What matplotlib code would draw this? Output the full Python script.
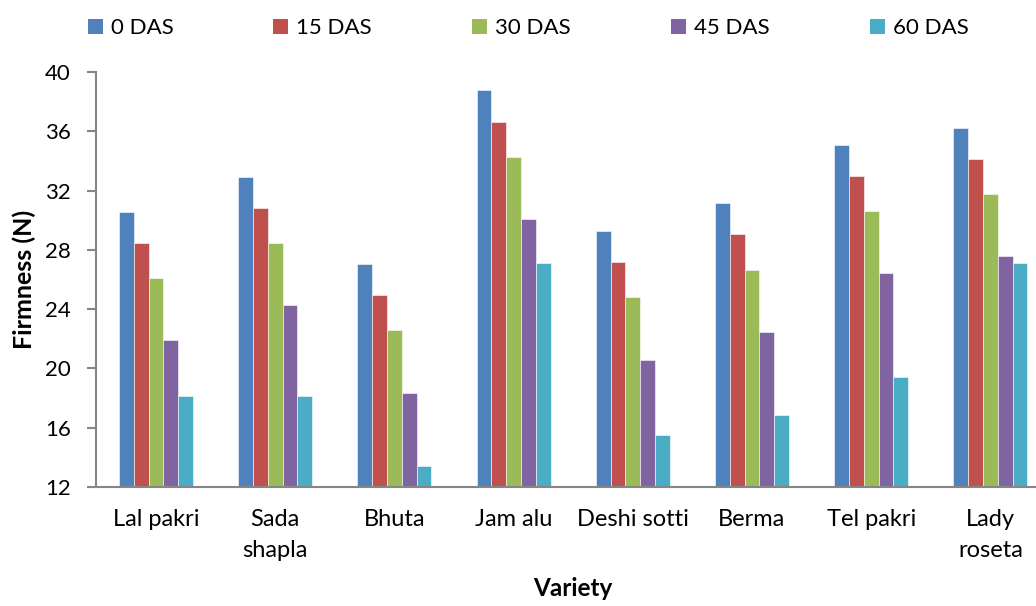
import numpy as np
import matplotlib.pyplot as plt
import matplotlib as mpl
from matplotlib.patches import Patch

mpl.rcParams['font.family'] = ['Lato', 'DejaVu Sans']
plt.rcParams.update({'font.size': 16})

varieties = ['Lal pakri', 'Sada\nshapla', 'Bhuta', 'Jam alu', 'Deshi sotti',
             'Berma', 'Tel pakri', 'Lady\nroseta']
series = ['0 DAS', '15 DAS', '30 DAS', '45 DAS', '60 DAS']

das_0 = [30.56, 32.9, 27.03, 38.76, 29.28, 31.15, 35.08, 36.25]
das_15 = [28.47, 30.79, 24.92, 36.65, 27.15, 29.06, 32.99, 34.13]
das_30 = [26.11, 28.43, 22.56, 34.29, 24.79, 26.67, 30.61, 31.8]
das_45 = [21.89, 24.25, 18.36, 30.09, 20.58, 22.49, 26.45, 27.6]
das_60 = [18.11, 18.11, 13.44, 27.12, 15.51, 16.83, 19.42, 27.12]

colors = ['#4F81BD', '#C0504D', '#9BBB59', '#8064A2', '#4BACC6']
values = [das_0, das_15, das_30, das_45, das_60]

fig = plt.figure(figsize=(10.36, 6.06), dpi=100)
ax = fig.add_axes([0.093, 0.1964, 0.9205, 0.6848])

x = np.arange(len(varieties))
width = 0.124
for i, (vals, c) in enumerate(zip(values, colors)):
    ax.bar(x + (i - 2) * width, np.array(vals) - 12, width, bottom=12,
           color=c, edgecolor='white', linewidth=0.4)

ax.set_xlim(-0.5, len(varieties) - 0.5)
ax.set_ylim(12, 40)
ax.set_yticks(np.arange(12, 41, 4))
ax.set_xticks(x)
ax.set_xticklabels(varieties, linespacing=1.6, fontsize=17)

for s in ['top', 'right']:
    ax.spines[s].set_visible(False)
for s in ['left', 'bottom']:
    ax.spines[s].set_color('#868686')
    ax.spines[s].set_linewidth(1.5)

ax.tick_params(axis='y', length=6.5, width=1.5, color='#868686', pad=12)
ax.tick_params(axis='x', length=0, pad=16)

ax.set_ylabel('Firmness (N)', fontweight='bold', fontsize=18, labelpad=6)
ax.set_xlabel('Variety', fontweight='bold', fontsize=17.5, labelpad=11)

# legend entries spaced evenly across the top
leg_x = [88, 273, 472, 671, 870]
for lx, lab, c in zip(leg_x, series, colors):
    leg = fig.legend(handles=[Patch(facecolor=c, label=lab)], loc='center left',
                     bbox_to_anchor=(lx / 1036, 1 - 28 / 606), frameon=False,
                     borderpad=0, borderaxespad=0, handlelength=0.68,
                     handleheight=0.68, handletextpad=0.35, fontsize=16)

plt.savefig('out.png', dpi=100)
